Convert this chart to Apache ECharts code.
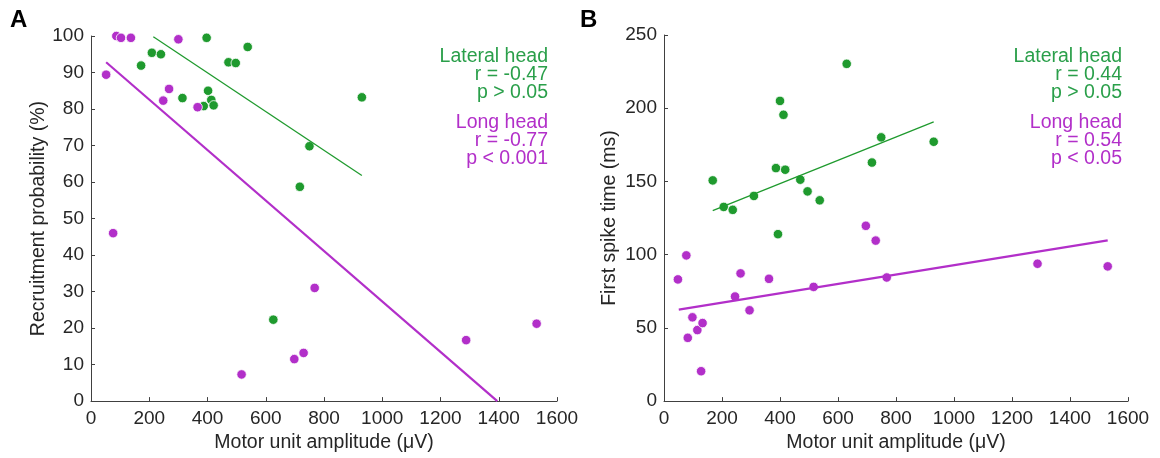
<!DOCTYPE html>
<html>
<head>
<meta charset="utf-8">
<script src="https://cdn.jsdelivr.net/npm/echarts@6/dist/echarts.min.js"></script>
<style>
  html, body { margin: 0; padding: 0; background: #fff; }
  #chart { width: 1160px; height: 458px; }
</style>
</head>
<body>
<div id="chart"></div>
<script>
// Panel A: recruitment probability vs amplitude
const recLateral = [
    [172, 91.9], [209, 95.4], [240, 95.0], [314, 83.0], [397, 99.5],
    [402, 85.0], [413, 82.5], [387, 80.8], [421, 81.0], [472, 92.8],
    [497, 92.6], [538, 97.0], [717, 58.7], [750, 69.8], [930, 83.2],
    [626, 22.3]
];
const recLong = [
    [52, 89.4], [87, 100], [119, 100.3], [103, 99.5], [137, 99.5],
    [300, 99.1], [268, 85.5], [248, 82.3], [366, 80.5], [76, 46.0],
    [517, 7.3], [698, 11.5], [730, 13.2], [768, 31.0], [1288, 16.7],
    [1530, 21.2]
];
const recLateralFit = [[214, 99.8], [930, 61.8]];
const recLongFit = [[52, 92.8], [1395, 0]];

// Panel B: first spike time vs amplitude
const spikeLateral = [
    [168, 150.7], [206, 132.6], [237, 130.6], [310, 140.1], [386, 159.1],
    [400, 205], [412, 195.5], [418, 158], [470, 151.2], [495, 143.2],
    [537, 137.1], [630, 230.3], [717, 162.9], [749, 180.1], [930, 177.1],
    [393, 114.0]
];
const spikeLong = [
    [48, 83.1], [77, 99.5], [82, 43.2], [98, 57.2], [115, 48.5],
    [133, 53.3], [128, 20.4], [245, 71.4], [264, 87.2], [295, 62.0],
    [362, 83.5], [516, 78.0], [696, 119.7], [730, 109.6], [768, 84.4],
    [1288, 93.8], [1530, 92.0]
];
const spikeLateralFit = [[168, 130], [930, 190.7]];
const spikeLongFit = [[51, 62.5], [1530, 109.8]];

const statsA = {
    lateral: ['Lateral head', 'r = -0.47', 'p > 0.05'],
    long: ['Long head', 'r = -0.77', 'p < 0.001']
};
const statsB = {
    lateral: ['Lateral head', 'r = 0.44', 'p > 0.05'],
    long: ['Long head', 'r = 0.54', 'p < 0.05']
};

const GREEN = '#1f9a2e';
const PURPLE = '#b22fc9';
const GREEN_TXT = '#2a9f4a';
const AXIS = '#404040';
const LABEL = '#262626';
const FONT = '"Liberation Sans", Arial, sans-serif';

const chart = echarts.init(document.getElementById('chart'));

function xAxisCfg(gridIndex) {
    return {
        type: 'value',
        gridIndex: gridIndex,
        min: 0, max: 1600, interval: 200,
        name: 'Motor unit amplitude (μV)',
        nameLocation: 'middle',
        nameGap: 29,
        nameTextStyle: { color: LABEL, fontSize: 19.5, fontFamily: FONT },
        axisLine: { lineStyle: { color: AXIS, width: 1 } },
        axisTick: { inside: true, length: 4, lineStyle: { color: AXIS } },
        axisLabel: { color: LABEL, fontSize: 19, fontFamily: FONT, margin: 8,
                     formatter: v => String(v) },
        splitLine: { show: false }
    };
}

function yAxisCfg(gridIndex, name, max, interval, gap) {
    return {
        type: 'value',
        gridIndex: gridIndex,
        min: 0, max: max, interval: interval,
        name: name,
        nameLocation: 'middle',
        nameGap: gap,
        nameTextStyle: { color: LABEL, fontSize: 19.5, fontFamily: FONT },
        axisLine: { show: true, lineStyle: { color: AXIS, width: 1 } },
        axisTick: { show: true, inside: true, length: 4, lineStyle: { color: AXIS } },
        axisLabel: { color: LABEL, fontSize: 19, fontFamily: FONT, margin: 7,
                     formatter: v => String(v) },
        splitLine: { show: false }
    };
}

function scatter(data, color, xi, yi) {
    return {
        type: 'scatter', xAxisIndex: xi, yAxisIndex: yi, data: data,
        symbolSize: 9.5, z: 3,
        itemStyle: { color: color, borderColor: '#fff', borderWidth: 0.8, opacity: 1 }
    };
}

function fitLine(data, color, width, xi, yi) {
    return {
        type: 'line', xAxisIndex: xi, yAxisIndex: yi, data: data,
        symbol: 'none', z: 4, silent: true,
        lineStyle: { color: color, width: width }
    };
}

function statText(lines, color, right, top) {
    return lines.map((t, i) => ({
        type: 'text',
        style: {
            text: t, x: right, y: top + i * 18,
            textAlign: 'right', textVerticalAlign: 'middle',
            font: '19.5px ' + FONT, fill: color
        }
    }));
}

const option = {
    animation: false,
    backgroundColor: '#fff',
    grid: [
        { left: 91, right: 603, top: 36, bottom: 53 },
        { left: 664, right: 32, top: 35, bottom: 54 }
    ],
    xAxis: [xAxisCfg(0), xAxisCfg(1)],
    yAxis: [
        yAxisCfg(0, 'Recruitment probability (%)', 100, 10, 40),
        yAxisCfg(1, 'First spike time (ms)', 250, 50, 44)
    ],
    series: [
        scatter(recLateral, GREEN, 0, 0),
        scatter(recLong, PURPLE, 0, 0),
        fitLine(recLateralFit, GREEN, 1.3, 0, 0),
        fitLine(recLongFit, PURPLE, 2.2, 0, 0),
        scatter(spikeLateral, GREEN, 1, 1),
        scatter(spikeLong, PURPLE, 1, 1),
        fitLine(spikeLateralFit, GREEN, 1.3, 1, 1),
        fitLine(spikeLongFit, PURPLE, 2.2, 1, 1)
    ],
    graphic: [
        { type: 'text', style: { text: 'A', x: 10, y: 8, font: 'bold 24px ' + FONT, fill: '#000' } },
        { type: 'text', style: { text: 'B', x: 580, y: 8, font: 'bold 24px ' + FONT, fill: '#000' } }
    ]
        .concat(statText(statsA.lateral, GREEN_TXT, 548, 57))
        .concat(statText(statsA.long, PURPLE, 548, 123))
        .concat(statText(statsB.lateral, GREEN_TXT, 1122, 57))
        .concat(statText(statsB.long, PURPLE, 1122, 123))
};

chart.setOption(option);
window.addEventListener('resize', function() { chart.resize(); });
</script>
</body>
</html>
